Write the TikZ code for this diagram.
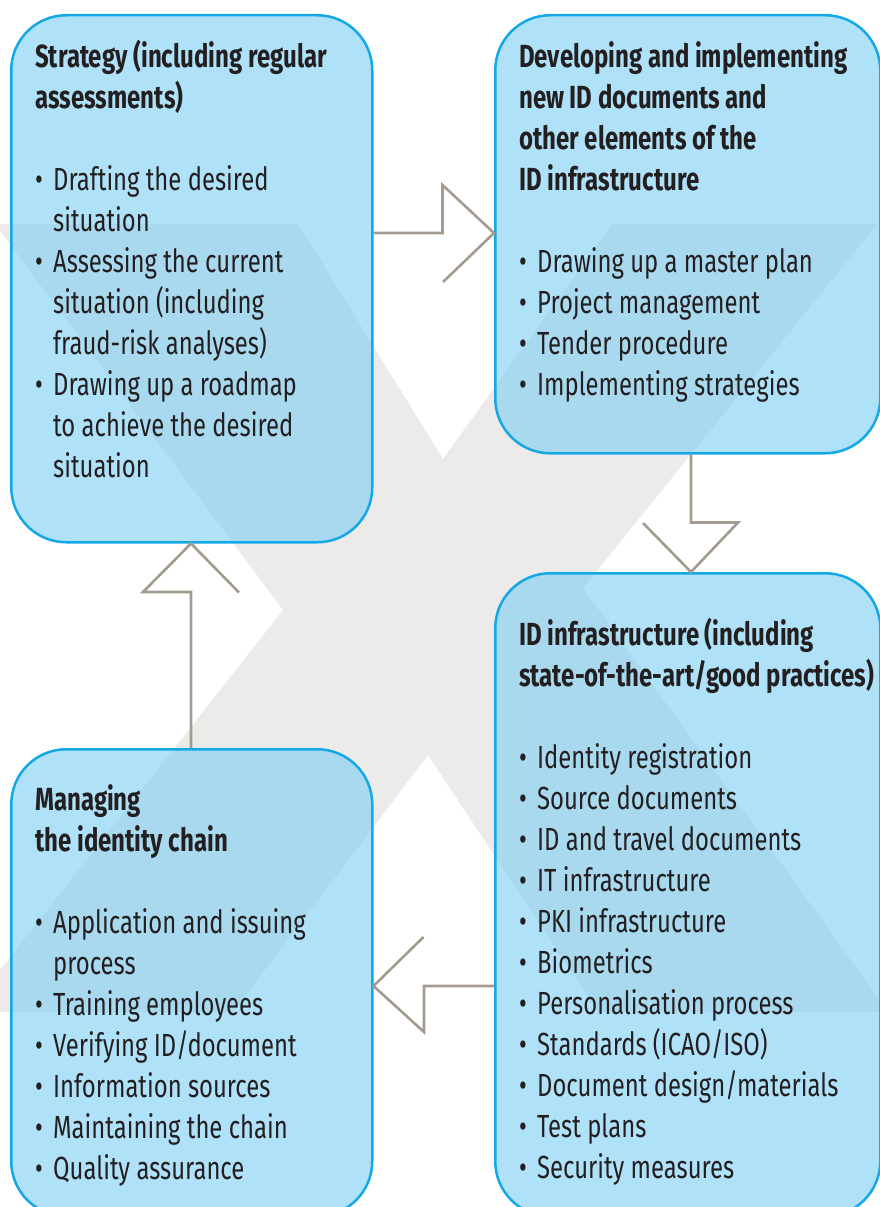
\documentclass[tikz,border=0pt]{standalone}
\usepackage{fontspec}
\setmainfont{Fira Sans}[UprightFeatures={FakeStretch=0.745}, BoldFeatures={FakeStretch=0.75}]
\usetikzlibrary{positioning}

\definecolor{panelfill}{RGB}{122,205,244}
\definecolor{panelline}{RGB}{20,168,230}
\definecolor{flowgrey}{RGB}{163,155,143}
\definecolor{xgrey}{RGB}{237,235,233}
\definecolor{txtcol}{RGB}{35,31,32}

\newcommand{\bul}{\makebox[18pt][l]{\textbullet}}
\newcommand{\cont}{\hspace*{18pt}}
\newcommand{\firstline}{\rule{0pt}{30pt}}

\begin{document}
\begin{tikzpicture}[x=1pt, y=-1pt,
  panel/.style={rectangle, draw=panelline, line width=2.5pt, fill=panelfill, fill opacity=0.6, rounded corners=55pt, anchor=north west, inner sep=0pt},
  boxtext/.style={anchor=north west, inner sep=0pt, align=left, text=txtcol, font=\fontsize{32}{41}\selectfont},
  flow/.style={draw=flowgrey, line width=2.6pt, line join=miter}]
	\useasboundingbox (0,0) rectangle (879,1207);

	% background X
	\fill[xgrey] (-5,224) -- (298,224) -- (443,459) -- (612,224) -- (877,224) -- (583,588)
		-- (888,1012) -- (598,1012) -- (428,755) -- (233,1012) -- (-33,1012) -- (283,610) -- cycle;

	\node[panel, minimum width=361pt, minimum height=527pt] (strat) at (10,14) {};
	\node[panel, minimum width=385pt, minimum height=438pt] (devel) at (494,14) {};
	\node[panel, minimum width=385pt, minimum height=643pt] (ident) at (494,572) {};
	\node[panel, minimum width=361pt, minimum height=467pt] (chain) at (10,748) {};

	\node[boxtext, below right=23pt and 25pt of strat.north west] (strat-txt) {\firstline\textbf{Strategy (including regular}\\
		\textbf{assessments)}\\[41pt]
		\bul Drafting the desired\\
		\cont situation\\
		\bul Assessing the current\\
		\cont situation (including\\
		\cont fraud-risk analyses)\\
		\bul Drawing up a roadmap\\
		\cont to achieve the desired\\
		\cont situation};
	\node[boxtext, below right=23pt and 25pt of devel.north west] (devel-txt) {\firstline\textbf{Developing and implementing}\\
		\textbf{new ID documents and}\\
		\textbf{other elements of the}\\
		\textbf{ID infrastructure}\\[41pt]
		\bul Drawing up a master plan\\
		\bul Project management\\
		\bul Tender procedure\\
		\bul Implementing strategies};
	\node[boxtext, below right=43pt and 25pt of ident.north west] (ident-txt) {\firstline\textbf{ID infrastructure (including}\\
		\textbf{state-of-the-art/good practices)}\\[41pt]
		\bul Identity registration\\
		\bul Source documents\\
		\bul ID and travel documents\\
		\bul IT infrastructure\\
		\bul PKI infrastructure\\
		\bul Biometrics\\
		\bul Personalisation process\\
		\bul Standards (ICAO/ISO)\\
		\bul Document design/materials\\
		\bul Test plans\\
		\bul Security measures};
	\node[boxtext, below right=32pt and 25pt of chain.north west] (chain-txt) {\firstline\textbf{Managing}\\
		\textbf{the identity chain}\\[41pt]
		\bul Application and issuing\\
		\cont process\\
		\bul Training employees\\
		\bul Verifying ID/document\\
		\bul Information sources\\
		\bul Maintaining the chain\\
		\bul Quality assurance};

	% open block arrows
	\draw[flow] (strat.east |- 0,233) -| ++(69,-48) -- (devel.west |- 0,233) -- ++(-51,49);
	\draw[flow] (devel.south -| 691,0) |- ++(47,68) -- (ident.north -| 691,0) -- ++(-48,-49);
	\draw[flow] (ident.west |- 0,986) -| ++(-70,46) -- (chain.east |- 0,986) -- ++(50,-49);
	\draw[flow] (chain.north -| 191,0) |- ++(-48,-156) -- (strat.south -| 191,0) -- ++(48,49);
\end{tikzpicture}
\end{document}
